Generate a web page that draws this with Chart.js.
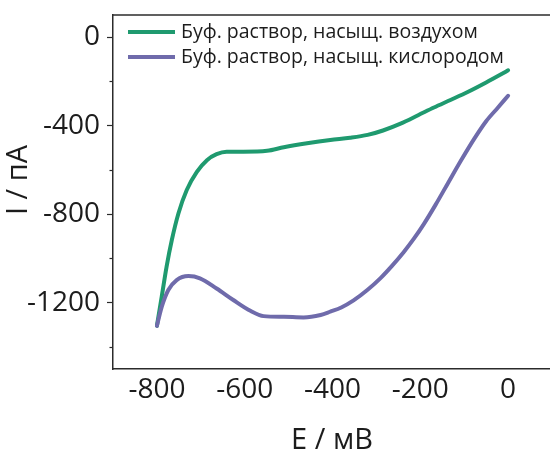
<!DOCTYPE html>
<html>
<head>
<meta charset="utf-8">
<script src="https://cdn.jsdelivr.net/npm/chart.js@4/dist/chart.umd.min.js"></script>
<style>
  html, body { margin: 0; padding: 0; background: #fff; overflow: hidden; }
  #wrap { width: 552px; height: 457px; }
</style>
</head>
<body>
<div id="wrap"><canvas id="cv" width="552" height="457"></canvas></div>
<script>
// Potential sweep (mV) and current (nA) for the air-saturated buffer
const airE = [-800, -789, -778, -766, -751, -732, -709, -686, -664, -641, -603, -549, -511, -458, -405, -360, -320, -285, -245, -205, -169, -130, -91, -50, -16, 0];
const airI = [-1305, -1173, -1038, -917, -797, -691, -609, -556, -529, -518, -518, -514, -498, -480, -465, -455, -442, -422, -391, -353, -318, -283, -247, -205, -168, -150];

// Potential sweep (mV) and current (nA) for the oxygen-saturated buffer
const oxyE = [-800, -789, -774, -755, -728, -702, -664, -626, -587, -557, -511, -466, -427, -405, -380, -352, -320, -290, -265, -238, -215, -192, -165, -137, -108, -78, -50, -23, 0];
const oxyI = [-1305, -1219, -1143, -1098, -1080, -1090, -1136, -1188, -1237, -1261, -1264, -1267, -1256, -1241, -1222, -1190, -1142, -1088, -1035, -972, -912, -845, -757, -660, -560, -462, -380, -318, -265];

const seriesLabels = ['Буф. раствор, насыщ. воздухом', 'Буф. раствор, насыщ. кислородом'];
const seriesColors = ['#1f9a6f', '#6f6bab'];

const xTicks = [-800, -600, -400, -200, 0];
const yTicks = [-1200, -800, -400, 0];
const yMinorTicks = [-1400, -1000, -600, -200];
const xTitle = 'E / мВ';
const yTitle = 'I / пА';

const FONT = "'Open Sans', 'DejaVu Sans', sans-serif";
const INK = '#1c1c1c';
const AXIS = '#2b2b2b';

function toPoints(xs, ys) { return xs.map((x, i) => ({ x: x, y: ys[i] })); }

// Axes keep no extra room for labels overhanging the plot edges
function noOverhang(scale) {
  scale.paddingTop = 0; scale.paddingBottom = 0;
  scale.paddingLeft = 0; scale.paddingRight = 0;
}

// Frame line along the top, short minor ticks on the left axis, axis titles and the inset legend
const decorations = {
  id: 'decorations',
  afterDraw(chart) {
    const { ctx, chartArea: a, scales } = chart;
    ctx.save();
    ctx.strokeStyle = AXIS;
    ctx.lineWidth = 1.5;
    ctx.beginPath();
    ctx.moveTo(a.left, a.top);
    ctx.lineTo(chart.width, a.top);
    ctx.stroke();

    ctx.lineWidth = 1.2;
    yMinorTicks.forEach(v => {
      const py = Math.round(scales.y.getPixelForValue(v)) + 0.5;
      ctx.beginPath();
      ctx.moveTo(a.left - 3.5, py);
      ctx.lineTo(a.left, py);
      ctx.stroke();
    });

    ctx.fillStyle = INK;
    ctx.font = '29px ' + FONT;
    ctx.textAlign = 'center';
    ctx.textBaseline = 'middle';
    ctx.fillText(xTitle, (a.left + 551) / 2, 441);
    ctx.save();
    ctx.translate(19, 180);
    ctx.rotate(-Math.PI / 2);
    ctx.fillText(yTitle, 0, 0);
    ctx.restore();

    ctx.font = '19.5px ' + FONT;
    ctx.textAlign = 'left';
    chart.data.datasets.forEach((ds, i) => {
      const cy = a.top + 17 + i * 25;
      ctx.strokeStyle = ds.borderColor;
      ctx.lineWidth = 4;
      ctx.beginPath();
      ctx.moveTo(a.left + 15, cy);
      ctx.lineTo(a.left + 62, cy);
      ctx.stroke();
      ctx.fillStyle = INK;
      ctx.fillText(ds.label, a.left + 68, cy);
    });
    ctx.restore();
  }
};

new Chart(document.getElementById('cv'), {
  type: 'scatter',
  data: {
    datasets: [
      { label: seriesLabels[0], data: toPoints(airE, airI), borderColor: seriesColors[0], order: 1 },
      { label: seriesLabels[1], data: toPoints(oxyE, oxyI), borderColor: seriesColors[1], order: 0 }
    ].map(d => Object.assign(d, {
      showLine: true, pointRadius: 0, borderWidth: 4, cubicInterpolationMode: 'monotone',
      borderCapStyle: 'round', borderJoinStyle: 'round', backgroundColor: d.borderColor
    }))
  },
  options: {
    responsive: false,
    animation: false,
    layout: { padding: { top: 15, left: 0, right: 0, bottom: 0 } },
    plugins: { legend: { display: false }, tooltip: { enabled: false } },
    scales: {
      x: {
        type: 'linear', min: -900, max: 100,
        afterBuildTicks(scale) { scale.ticks = xTicks.map(v => ({ value: v })); },
        afterFit(scale) { scale.height = 88; noOverhang(scale); },
        grid: { display: false, drawTicks: false },
        border: { display: true, color: AXIS, width: 1.5 },
        ticks: { font: { family: FONT, size: 28 }, color: INK, padding: 4, maxRotation: 0, autoSkip: false,
                 callback: v => String(v) }
      },
      y: {
        type: 'linear', min: -1500, max: 100,
        afterBuildTicks(scale) { scale.ticks = yTicks.map(v => ({ value: v })); },
        afterFit(scale) { scale.width = 113; noOverhang(scale); },
        grid: { display: true, drawOnChartArea: false, drawTicks: true, tickLength: 6, tickColor: AXIS, tickWidth: 1.2 },
        border: { display: true, color: AXIS, width: 1.5 },
        ticks: { font: { family: FONT, size: 28 }, color: INK, padding: 7, autoSkip: false,
                 callback: v => String(v) }
      }
    }
  },
  plugins: [decorations]
});
</script>
</body>
</html>
